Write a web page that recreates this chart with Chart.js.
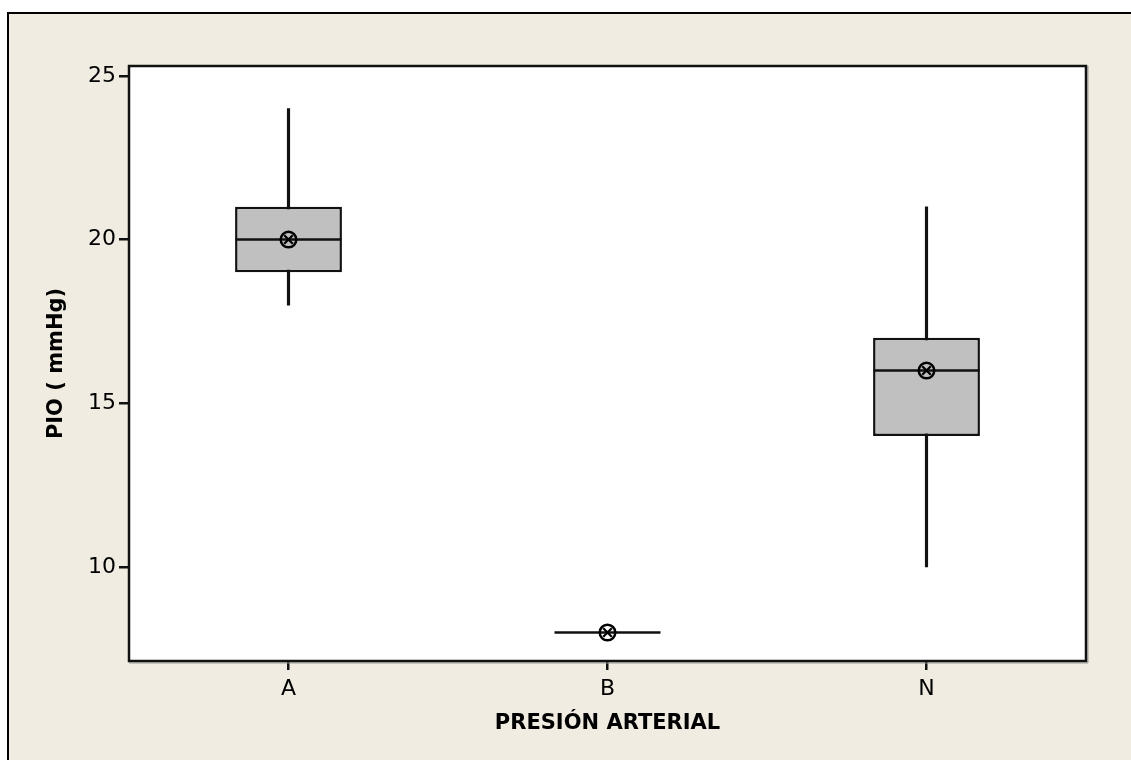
<!DOCTYPE html>
<html><head><meta charset="utf-8">
<script src="https://cdn.jsdelivr.net/npm/chart.js@4/dist/chart.umd.min.js"></script>
<style>html,body{margin:0;padding:0;background:#fff;overflow:hidden;} canvas{display:block;}</style>
</head><body>
<canvas id="c" width="1131" height="760"></canvas>
<script>
const categories = ['A', 'B', 'N'];
const whiskerLow = [18, 8, 10];
const whiskerHigh = [24, 8, 21];
const q1 = [19, 8, 14];
const q3 = [21, 8, 17];
const medians = [20, 8, 16];
const means = [20, 8, 16];
const yTicks = [10, 15, 20, 25];
const yMin = 7.13, yMax = 25.3;

const BEIGE = '#F0ECE2';
const FONT = '"DejaVu Sans", Verdana, sans-serif';

const framePlugin = {
  id: 'frame',
  beforeDraw(chart) {
    const ctx = chart.ctx, w = chart.width, h = chart.height, a = chart.chartArea;
    ctx.save();
    ctx.fillStyle = '#fff';
    ctx.fillRect(0, 0, w, h);
    ctx.fillStyle = BEIGE;
    ctx.fillRect(8, 13, w - 8, h - 13);
    ctx.strokeStyle = '#000';
    ctx.lineWidth = 2;
    ctx.beginPath();
    ctx.moveTo(8, h); ctx.lineTo(8, 13); ctx.lineTo(w, 13);
    ctx.stroke();
    ctx.fillStyle = '#fff';
    ctx.fillRect(a.left, a.top, a.right - a.left, a.bottom - a.top);
    ctx.restore();
  },
  afterDraw(chart) {
    const ctx = chart.ctx, a = chart.chartArea;
    ctx.save();
    ctx.strokeStyle = '#999';
    ctx.lineWidth = 1;
    ctx.beginPath();
    ctx.moveTo(a.right + 2, a.top); ctx.lineTo(a.right + 2, a.bottom + 2); ctx.lineTo(a.left, a.bottom + 2);
    ctx.stroke();
    ctx.strokeStyle = '#111';
    ctx.lineWidth = 2.5;
    ctx.strokeRect(a.left, a.top, a.right - a.left, a.bottom - a.top);
    ctx.restore();
  }
};

new Chart(document.getElementById('c'), {
  type: 'bar',
  data: {
    labels: categories,
    datasets: [
      { type: 'line', data: means, showLine: false, pointStyle: 'crossRot', pointRadius: 6, pointHoverRadius: 6,
        pointBorderColor: '#000', pointBorderWidth: 2.2, order: 0 },
      { type: 'line', data: means, showLine: false, pointStyle: 'circle', pointRadius: 7.8, pointHoverRadius: 7.8,
        pointBorderColor: '#000', pointBackgroundColor: 'rgba(0,0,0,0)', pointBorderWidth: 2.5, order: 1 },
      { type: 'line', data: medians, showLine: false, pointStyle: 'line', pointRadius: 53, pointHoverRadius: 53,
        pointBorderColor: '#111', pointBorderWidth: 2.5, order: 2 },
      { type: 'bar', data: q1.map((v, i) => [v, q3[i]]), backgroundColor: '#C0C0C0', borderColor: '#111',
        borderWidth: 2.5, borderSkipped: false, categoryPercentage: 1, barPercentage: 0.335, grouped: false, order: 3 },
      { type: 'bar', data: whiskerLow.map((v, i) => [v, whiskerHigh[i]]), backgroundColor: '#111',
        borderWidth: 0, barThickness: 2.5, grouped: false, order: 4 }
    ]
  },
  options: {
    responsive: false,
    animation: false,
    devicePixelRatio: 1,
    layout: { autoPadding: false, padding: { top: 66, right: 45, left: 0, bottom: 0 } },
    plugins: { legend: { display: false }, tooltip: { enabled: false } },
    scales: {
      x: {
        type: 'category',
        offset: true,
        border: { display: false },
        grid: { display: true, drawOnChartArea: false, drawTicks: true, tickLength: 9, color: '#111', lineWidth: 2.5, offset: false },
        ticks: { font: { family: FONT, size: 22 }, color: '#000', padding: 6, maxRotation: 0 },
        title: { display: true, text: 'PRESIÓN ARTERIAL', color: '#000', font: { family: FONT, size: 21, weight: 'bold' }, padding: { top: 0, bottom: 24 } },
        afterFit(s) { s.height = 99; }
      },
      y: {
        type: 'linear',
        min: yMin,
        max: yMax,
        border: { display: false },
        afterBuildTicks(s) { s.ticks = yTicks.map(v => ({ value: v })); },
        grid: { display: true, drawOnChartArea: false, drawTicks: true, tickLength: 10, color: '#111', lineWidth: 2.5 },
        ticks: { font: { family: FONT, size: 22 }, color: '#000', padding: 3 },
        title: { display: true, text: 'PIO ( mmHg)', color: '#000', font: { family: FONT, size: 21, weight: 'bold' }, padding: { top: 44, bottom: 0 } },
        afterFit(s) { s.width = 129; }
      }
    }
  },
  plugins: [framePlugin]
});
</script>
</body></html>
